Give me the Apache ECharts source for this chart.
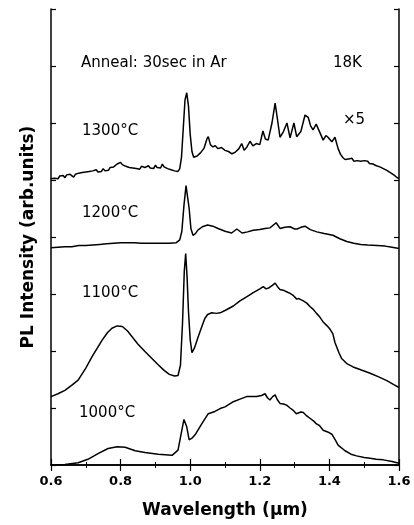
<!DOCTYPE html>
<html>
<head>
<meta charset="utf-8">
<script src="https://cdn.jsdelivr.net/npm/echarts@6/dist/echarts.min.js"></script>
<style>
  html, body { margin: 0; padding: 0; background: #fff; }
  #chart { width: 414px; height: 525px; }
</style>
</head>
<body>
<div id="chart"></div>
<script>
// wavelength (um) / PL intensity (arb. units, curves stacked with offsets)
var wl1300 = [0.600,0.605,0.610,0.615,0.620,0.625,0.630,0.635,0.640,0.645,0.650,0.655,0.660,0.665,0.670,0.675,0.680,0.685,0.690,0.695,0.700,0.705,0.710,0.715,0.720,0.725,0.730,0.735,0.740,0.745,0.750,0.755,0.760,0.765,0.770,0.775,0.780,0.785,0.790,0.795,0.800,0.805,0.810,0.815,0.820,0.825,0.830,0.835,0.840,0.845,0.850,0.855,0.860,0.865,0.870,0.875,0.880,0.885,0.890,0.895,0.900,0.905,0.910,0.915,0.920,0.925,0.930,0.935,0.940,0.945,0.950,0.955,0.960,0.965,0.970,0.975,0.980,0.985,0.990,0.995,1.000,1.005,1.010,1.015,1.020,1.030,1.040,1.048,1.052,1.058,1.065,1.072,1.080,1.090,1.100,1.110,1.120,1.130,1.140,1.148,1.155,1.163,1.172,1.180,1.190,1.200,1.209,1.216,1.224,1.235,1.244,1.250,1.258,1.268,1.278,1.287,1.298,1.306,1.318,1.330,1.339,1.346,1.353,1.362,1.367,1.375,1.382,1.390,1.396,1.407,1.416,1.425,1.432,1.439,1.445,1.450,1.455,1.460,1.465,1.470,1.475,1.480,1.485,1.490,1.495,1.500,1.505,1.510,1.515,1.520,1.525,1.530,1.535,1.540,1.545,1.550,1.555,1.560,1.565,1.570,1.575,1.580,1.585,1.590,1.595,1.600];
var pl1300 = [5.02,5.05,5.03,5.06,5.02,5.07,5.05,5.08,5.04,5.09,5.06,5.10,5.07,5.05,5.10,5.08,5.12,5.09,5.13,5.10,5.14,5.11,5.15,5.12,5.16,5.13,5.18,5.14,5.17,5.15,5.20,5.16,5.19,5.17,5.22,5.19,5.23,5.25,5.28,5.26,5.31,5.27,5.29,5.24,5.27,5.22,5.25,5.21,5.24,5.20,5.23,5.19,5.24,5.21,5.22,5.19,5.25,5.21,5.23,5.20,5.26,5.22,5.25,5.21,5.28,5.23,5.25,5.20,5.22,5.18,5.20,5.16,5.17,5.15,5.20,5.40,5.90,6.40,6.53,6.30,5.80,5.50,5.40,5.38,5.42,5.48,5.56,5.72,5.76,5.62,5.58,5.60,5.55,5.57,5.52,5.50,5.46,5.49,5.55,5.64,5.52,5.58,5.68,5.60,5.64,5.62,5.86,5.72,5.70,6.00,6.35,6.10,5.75,5.85,6.00,5.74,6.00,5.76,5.85,6.14,6.10,5.95,5.88,5.98,5.96,5.80,5.70,5.78,5.75,5.67,5.75,5.55,5.45,5.39,5.36,5.34,5.37,5.35,5.38,5.33,5.36,5.34,5.37,5.33,5.36,5.34,5.31,5.33,5.29,5.32,5.28,5.29,5.25,5.27,5.23,5.24,5.20,5.21,5.17,5.16,5.13,5.14,5.09,5.08,5.04,5.03];

var wl1200 = [0.60,0.62,0.64,0.66,0.68,0.70,0.72,0.74,0.76,0.78,0.80,0.82,0.84,0.86,0.88,0.90,0.92,0.94,0.96,0.970,0.976,0.982,0.988,0.992,0.997,1.002,1.008,1.015,1.022,1.035,1.050,1.065,1.080,1.100,1.119,1.134,1.149,1.165,1.181,1.200,1.215,1.229,1.247,1.258,1.272,1.287,1.300,1.307,1.318,1.330,1.345,1.364,1.385,1.410,1.430,1.450,1.470,1.490,1.510,1.537,1.560,1.580,1.600];
var pl1200 = [3.81,3.82,3.83,3.83,3.85,3.85,3.86,3.87,3.88,3.89,3.90,3.90,3.90,3.89,3.89,3.89,3.89,3.89,3.90,3.95,4.10,4.55,4.90,4.88,4.50,4.15,4.03,4.06,4.12,4.18,4.21,4.19,4.15,4.10,4.07,4.14,4.07,4.09,4.12,4.13,4.15,4.16,4.25,4.15,4.17,4.18,4.14,4.14,4.17,4.19,4.13,4.09,4.06,4.03,3.97,3.92,3.89,3.87,3.86,3.85,3.84,3.82,3.80];

var wl1100 = [0.600,0.620,0.640,0.660,0.678,0.700,0.718,0.733,0.747,0.762,0.775,0.790,0.805,0.820,0.833,0.850,0.870,0.890,0.908,0.925,0.940,0.955,0.965,0.972,0.978,0.983,0.987,0.991,0.995,1.000,1.005,1.012,1.023,1.033,1.042,1.050,1.062,1.075,1.086,1.100,1.124,1.143,1.162,1.180,1.200,1.210,1.218,1.227,1.236,1.244,1.252,1.258,1.270,1.280,1.287,1.297,1.306,1.312,1.325,1.335,1.344,1.352,1.363,1.372,1.382,1.392,1.402,1.410,1.416,1.421,1.428,1.435,1.450,1.468,1.490,1.517,1.540,1.565,1.585,1.600];
var pl1100 = [1.20,1.25,1.31,1.40,1.49,1.70,1.90,2.05,2.19,2.32,2.40,2.44,2.43,2.35,2.25,2.12,1.99,1.87,1.76,1.66,1.59,1.56,1.57,1.75,2.50,3.40,3.71,3.30,2.70,2.20,1.97,2.05,2.25,2.42,2.57,2.64,2.67,2.66,2.67,2.71,2.79,2.88,2.95,3.02,3.09,3.13,3.09,3.11,3.15,3.19,3.12,3.08,3.06,3.03,3.01,2.97,2.91,2.92,2.88,2.84,2.78,2.74,2.66,2.60,2.51,2.45,2.38,2.30,2.15,2.07,1.96,1.87,1.78,1.72,1.67,1.61,1.55,1.48,1.41,1.36];

var wl1000 = [0.600,0.640,0.678,0.706,0.735,0.764,0.790,0.813,0.842,0.870,0.908,0.948,0.965,0.976,0.982,0.990,0.997,1.005,1.014,1.034,1.052,1.071,1.086,1.100,1.124,1.145,1.162,1.191,1.205,1.215,1.222,1.229,1.237,1.244,1.250,1.258,1.268,1.277,1.287,1.296,1.305,1.310,1.318,1.325,1.335,1.344,1.355,1.363,1.372,1.382,1.395,1.407,1.416,1.425,1.445,1.462,1.478,1.500,1.517,1.535,1.555,1.580,1.600];
var pl1000 = [0.00,0.01,0.04,0.10,0.20,0.29,0.32,0.31,0.25,0.22,0.19,0.17,0.26,0.61,0.80,0.67,0.44,0.47,0.53,0.73,0.90,0.94,0.99,1.02,1.11,1.16,1.20,1.20,1.22,1.25,1.18,1.14,1.20,1.23,1.15,1.08,1.07,1.05,1.00,0.96,0.90,0.88,0.93,0.92,0.86,0.82,0.77,0.72,0.69,0.61,0.58,0.54,0.45,0.35,0.25,0.19,0.16,0.13,0.12,0.10,0.09,0.06,0.03];

function pairs(xs, ys) {
  var out = [];
  for (var i = 0; i < xs.length; i++) out.push([xs[i], ys[i]]);
  return out;
}

function curve(name, xs, ys) {
  return {
    name: name,
    type: 'line',
    data: pairs(xs, ys),
    showSymbol: false,
    silent: true,
    color: '#000',
    lineStyle: { color: '#000', width: 1.5 }
  };
}

var chart = echarts.init(document.getElementById('chart'));

var tickFont = { fontFamily: 'DejaVu Sans', fontWeight: 'bold', fontSize: 13, color: '#000' };

function note(text, x, y) {
  return {
    type: 'text',
    left: x,
    top: y - 9,
    style: { text: text, font: '15px "DejaVu Sans"', fill: '#000' }
  };
}

chart.setOption({
  animation: false,
  backgroundColor: '#fff',
  grid: { left: 51, right: 15, top: 9, bottom: 60 },
  xAxis: [{
    type: 'value', min: 0.6, max: 1.6, interval: 0.2,
    name: 'Wavelength (\u00b5m)', nameLocation: 'middle', nameGap: 37,
    nameTextStyle: { fontFamily: 'DejaVu Sans', fontWeight: 'bold', fontSize: 17, color: '#000' },
    axisLine: { lineStyle: { color: '#000', width: 1.5 } },
    axisTick: { inside: true, length: 6, lineStyle: { color: '#000', width: 1.2 } },
    minorTick: { show: true, splitNumber: 2, length: 3, lineStyle: { color: '#000', width: 1 } },
    axisLabel: Object.assign({ margin: 10, formatter: function (v) { return v.toFixed(1); } }, tickFont),
    splitLine: { show: false }
  }, {
    type: 'value', position: 'top', min: 0.6, max: 1.6, interval: 0.2,
    axisLine: { lineStyle: { color: '#000', width: 1.5 } },
    axisTick: { inside: true, length: 6, lineStyle: { color: '#000', width: 1.2 } },
    minorTick: { show: true, splitNumber: 2, length: 3, lineStyle: { color: '#000', width: 1 } },
    axisLabel: { show: false },
    splitLine: { show: false }
  }],
  yAxis: [{
    type: 'value', min: 0, max: 8, interval: 1,
    name: 'PL Intensity (arb.units)', nameLocation: 'middle', nameGap: 14,
    nameTextStyle: { fontFamily: 'DejaVu Sans', fontWeight: 'bold', fontSize: 17, color: '#000' },
    axisLine: { show: true, lineStyle: { color: '#000', width: 1.5 } },
    axisTick: { show: true, inside: true, length: 5, lineStyle: { color: '#000', width: 1.2 } },
    axisLabel: { show: false },
    splitLine: { show: false }
  }, {
    type: 'value', position: 'right', min: 0, max: 8, interval: 1,
    axisLine: { show: true, lineStyle: { color: '#000', width: 1.5 } },
    axisTick: { show: true, inside: true, length: 5, lineStyle: { color: '#000', width: 1.2 } },
    axisLabel: { show: false },
    splitLine: { show: false }
  }],
  series: [
    curve('1300', wl1300, pl1300),
    curve('1200', wl1200, pl1200),
    curve('1100', wl1100, pl1100),
    curve('1000', wl1000, pl1000)
  ],
  graphic: [
    note('Anneal: 30sec in Ar', 81, 65),
    note('18K', 333, 65),
    note('1300\u00b0C', 82, 133),
    note('\u00d75', 343, 122),
    note('1200\u00b0C', 82, 215),
    note('1100\u00b0C', 82, 295),
    note('1000\u00b0C', 79, 415)
  ]
});
</script>
</body>
</html>
